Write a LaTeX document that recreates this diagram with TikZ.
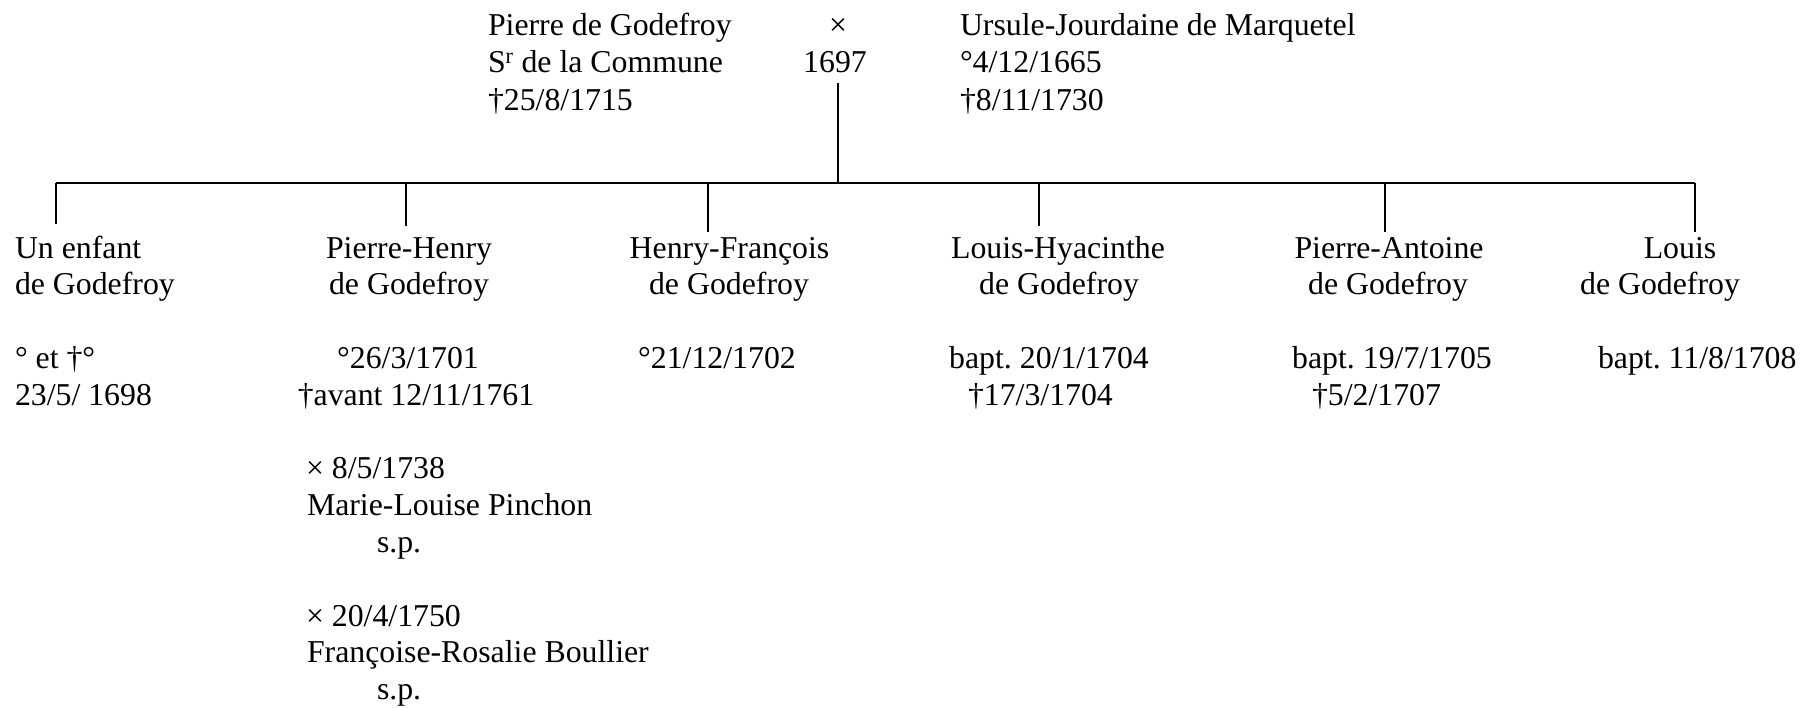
\documentclass[tikz,border=0pt]{standalone}
\usepackage{fontspec}
\setmainfont{Liberation Serif}
\frenchspacing
\begin{document}
\begin{tikzpicture}[x=1pt,y={(0pt,-1pt)},
  txt/.style={inner sep=0pt,outer sep=0pt,font=\fontsize{31.8}{36.8}\selectfont},
  cc/.style={txt,anchor=base},
  ll/.style={txt,anchor=base west},
  link/.style={line width=1.6pt,black}]
\useasboundingbox (0,0) rectangle (1803,707);

% parents
\node[ll] (p1) at (488,35) {Pierre de Godefroy};
\node[ll] (p2) at (488,72.5) {S\textsuperscript{r} de la Commune};
\node[ll] (p3) at (488,110) {†25/8/1715};
\node[cc] (mx) at (838,35) {×};
\node[cc] (my) at (835,72.5) {1697};
\node[ll] (u1) at (960,35) {Ursule-Jourdaine de Marquetel};
\node[ll] (u2) at (960,72.5) {°4/12/1665};
\node[ll] (u3) at (960,110) {†8/11/1730};

% connectors
\coordinate (top) at (838,83);
\coordinate (bar) at (838,183);
\coordinate (b1) at (56,183);
\coordinate (b2) at (406,183);
\coordinate (b3) at (708,183);
\coordinate (b4) at (1039,183);
\coordinate (b5) at (1385,183);
\coordinate (b6) at (1695,183);
\coordinate (d1) at (56,224);
\coordinate (d2) at (406,226);
\coordinate (d3) at (708,232);
\coordinate (d4) at (1039,226);
\coordinate (d5) at (1385,232);
\coordinate (d6) at (1695,232);
\draw[link] (top) -- (bar);
\draw[link] (b1) -- (b6);
\draw[link] (b1) -- (d1);
\draw[link] (b2) -- (d2);
\draw[link] (b3) -- (d3);
\draw[link] (b4) -- (d4);
\draw[link] (b5) -- (d5);
\draw[link] (b6) -- (d6);

% child 1
\node[ll] (c1a) at (15,258) {Un enfant};
\node[ll] (c1b) at (15,294.8) {de Godefroy};
\node[ll] (c1c) at (15,368.4) {° et †°};
\node[ll] (c1d) at (15,405.2) {23/5/ 1698};

% child 2
\node[cc] (c2a) at (409,258) {Pierre-Henry};
\node[cc] (c2b) at (409,294.8) {de Godefroy};
\node[cc] (c2c) at (408,368.4) {°26/3/1701};
\node[cc] (c2d) at (416,405.2) {†avant 12/11/1761};
\node[ll] (c2e) at (306,478.8) {× 8/5/1738};
\node[ll] (c2f) at (307,515.6) {Marie-Louise Pinchon};
\node[ll] (c2g) at (377,552.4) {s.p.};
\node[ll] (c2h) at (306,626) {× 20/4/1750};
\node[ll] (c2i) at (307,662.8) {Françoise-Rosalie Boullier};
\node[ll] (c2j) at (377,699.6) {s.p.};

% child 3
\node[cc] (c3a) at (729.5,258) {Henry-François};
\node[cc] (c3b) at (729,294.8) {de Godefroy};
\node[cc] (c3c) at (717,368.4) {°21/12/1702};

% child 4
\node[cc] (c4a) at (1058,258) {Louis-Hyacinthe};
\node[cc] (c4b) at (1059,294.8) {de Godefroy};
\node[cc] (c4c) at (1049,368.4) {bapt. 20/1/1704};
\node[ll] (c4d) at (968,405.2) {†17/3/1704};

% child 5
\node[cc] (c5a) at (1389,258) {Pierre-Antoine};
\node[cc] (c5b) at (1388,294.8) {de Godefroy};
\node[cc] (c5c) at (1392,368.4) {bapt. 19/7/1705};
\node[ll] (c5d) at (1312,405.2) {†5/2/1707};

% child 6
\node[cc] (c6a) at (1680,258) {Louis};
\node[cc] (c6b) at (1660,294.8) {de Godefroy};
\node[ll] (c6c) at (1598,368.4) {bapt. 11/8/1708};
\end{tikzpicture}
\end{document}
